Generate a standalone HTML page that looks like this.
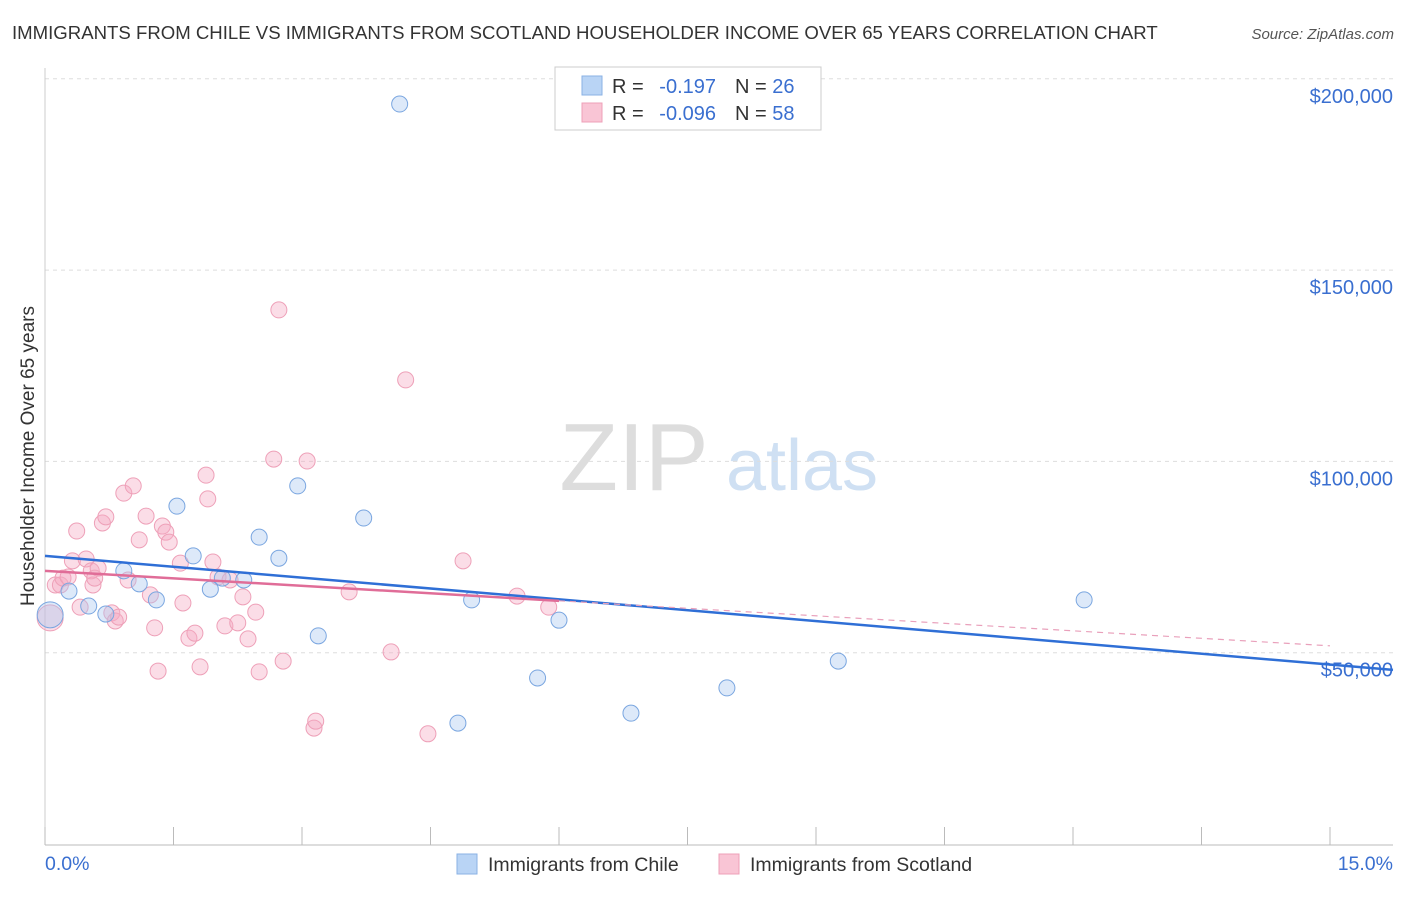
<!DOCTYPE html>
<html><head><meta charset="utf-8">
<style>
body{margin:0;background:#fff;width:1406px;height:892px;overflow:hidden;font-family:"Liberation Sans",sans-serif;}
svg text{font-family:"Liberation Sans",sans-serif;}
</style></head>
<body>
<svg id="chart" width="1406" height="892" xmlns="http://www.w3.org/2000/svg">
<text x="12" y="39" font-size="18.6" fill="#333">IMMIGRANTS FROM CHILE VS IMMIGRANTS FROM SCOTLAND HOUSEHOLDER INCOME OVER 65 YEARS CORRELATION CHART</text>
<text x="1394" y="39" font-size="15" fill="#555" text-anchor="end" font-style="italic">Source: ZipAtlas.com</text>
<g>
<text x="634" y="490" font-size="96" fill="#ddd" font-family="Liberation Serif, serif" text-anchor="middle">ZIP</text>
<text x="802" y="490" font-size="72" fill="#cfe0f3" text-anchor="middle">atlas</text>
</g>
<g id="grid"></g>
<g id="axes"></g>
<g id="marks"></g>
<text transform="translate(34,456) rotate(-90)" font-size="19" fill="#333" text-anchor="middle">Householder Income Over 65 years</text>
<g>
<rect x="555" y="67" width="266" height="63" fill="#fff" stroke="#ccc"/>
<rect x="582" y="76" width="20" height="19" fill="#b9d4f5" stroke="#8ab2e4"/>
<rect x="582" y="103" width="20" height="19" fill="#f9c5d5" stroke="#eea0b8"/>
<text x="612" y="93" font-size="20" fill="#333">R =</text>
<text x="716" y="93" font-size="20" fill="#3a6fd0" text-anchor="end">-0.197</text>
<text x="735" y="93" font-size="20" fill="#333">N = <tspan fill="#3a6fd0">26</tspan></text>
<text x="612" y="120" font-size="20" fill="#333">R =</text>
<text x="716" y="120" font-size="20" fill="#3a6fd0" text-anchor="end">-0.096</text>
<text x="735" y="120" font-size="20" fill="#333">N = <tspan fill="#3a6fd0">58</tspan></text>
</g>
<g>
<rect x="457" y="854" width="20" height="20" fill="#b9d4f5" stroke="#8ab2e4"/>
<text x="488" y="871" font-size="19.5" fill="#333">Immigrants from Chile</text>
<rect x="719" y="854" width="20" height="20" fill="#f9c5d5" stroke="#eea0b8"/>
<text x="750" y="871" font-size="19.5" fill="#333">Immigrants from Scotland</text>
</g>
</svg>
<script>
const yTicks=[50000,100000,150000,200000];
const yTickLabels=["$50,000","$100,000","$150,000","$200,000"];
const xTickCount=10;
const xLabels=["0.0%","15.0%"];
const chileX=[4.14,0.28,0.51,0.71,0.92,1.10,1.30,1.54,1.73,1.93,2.07,2.32,2.50,2.73,2.95,3.19,3.72,4.82,4.98,5.75,6.00,6.84,7.96,9.26,12.13,0.06];
const chileY=[193400,66100,62200,60100,71400,68000,63800,88300,75300,66600,69500,69000,80200,74700,93600,54400,85200,31600,63800,43400,58500,34200,40800,47800,63800,59900];
const scotX=[0.06,0.12,0.18,0.21,0.27,0.32,0.37,0.41,0.48,0.54,0.56,0.58,0.62,0.67,0.71,0.78,0.82,0.86,0.92,0.97,1.03,1.10,1.18,1.23,1.28,1.32,1.37,1.41,1.45,1.58,1.61,1.68,1.75,1.81,1.88,1.90,1.96,2.02,2.10,2.16,2.25,2.31,2.37,2.46,2.50,2.67,2.73,2.78,3.06,3.14,3.16,3.55,4.04,4.21,4.47,4.88,5.51,5.88];
const scotY=[59100,67700,67700,69500,69800,74000,81800,61900,74500,71400,67700,69500,72100,83900,85500,60400,58300,59300,91700,69000,93600,79500,85700,65100,56500,45200,83100,81500,78900,73400,63000,53800,55100,46300,96400,90200,73700,69800,57000,69000,57800,64600,53600,60600,45000,100600,139600,47800,100100,30300,32100,65900,50200,121300,28800,74000,64800,61900];
const chileTrend=[75300,46900];
const scotTrend=[71400,51800];
const sx=v=>45+v/15*1285;
const sy=v=>844-v/50000*191.3;
const NS="http://www.w3.org/2000/svg";
function mk(parent,tag,attrs){const e=document.createElementNS(NS,tag);for(const k in attrs)e.setAttribute(k,attrs[k]);document.getElementById(parent).appendChild(e);return e;}
yTicks.forEach((t,i)=>{
 const g=mk('grid','line',{x1:45,x2:1393,y1:sy(t),y2:sy(t),stroke:'#ddd','stroke-dasharray':'4,4'});
 
 
 const l=mk('axes','text',{x:1393,y:sy(t)+24,'text-anchor':'end','font-size':20,fill:'#3a6fd0'});
 l.textContent=yTickLabels[i];
 
 
});
const ax=mk('axes','line',{x1:45,x2:1393,y1:845,y2:845,stroke:'#bbb'});


const ay=mk('axes','line',{x1:45,x2:45,y1:68,y2:845,stroke:'#ccc'});


for(let i=0;i<=xTickCount;i++){
 const x=sx(i*1.5);
 const t=mk('axes','line',{x1:x,x2:x,y1:827,y2:845,stroke:'#bbb'});
 
 
}
const x0=mk('axes','text',{x:45,y:870,'font-size':19.5,fill:'#3a6fd0'});
x0.textContent=xLabels[0];


const x1=mk('axes','text',{x:1393,y:870,'font-size':19.5,fill:'#3a6fd0','text-anchor':'end'});
x1.textContent=xLabels[1];


scotX.forEach((v,i)=>{
 const c=mk('marks','circle',{cx:sx(v),cy:sy(scotY[i]),r:i===0?13:8,fill:'rgba(246,170,195,0.4)',stroke:'#eea0b8','stroke-width':1});
 
 
});
chileX.forEach((v,i)=>{
 const c=mk('marks','circle',{cx:sx(v),cy:sy(chileY[i]),r:i===25?13:8,fill:'rgba(170,200,240,0.4)',stroke:'#7aa6e0','stroke-width':1});
 
 
});
const bl=mk('marks','line',{x1:sx(0),y1:sy(chileTrend[0]),x2:1393,y2:sy(chileTrend[0]+(chileTrend[1]-chileTrend[0])*(1393-45)/1285),stroke:'#2f6fd6','stroke-width':2.5});


const sAt=p=>scotTrend[0]+(scotTrend[1]-scotTrend[0])*p/15;
const pl=mk('marks','line',{x1:sx(0),y1:sy(sAt(0)),x2:sx(6),y2:sy(sAt(6)),stroke:'#e06d98','stroke-width':2.5});


const pd=mk('marks','line',{x1:sx(6),y1:sy(sAt(6)),x2:sx(15),y2:sy(sAt(15)),stroke:'#e9a0bb','stroke-width':1.2,'stroke-dasharray':'6,5'});


</script>
</body></html>
